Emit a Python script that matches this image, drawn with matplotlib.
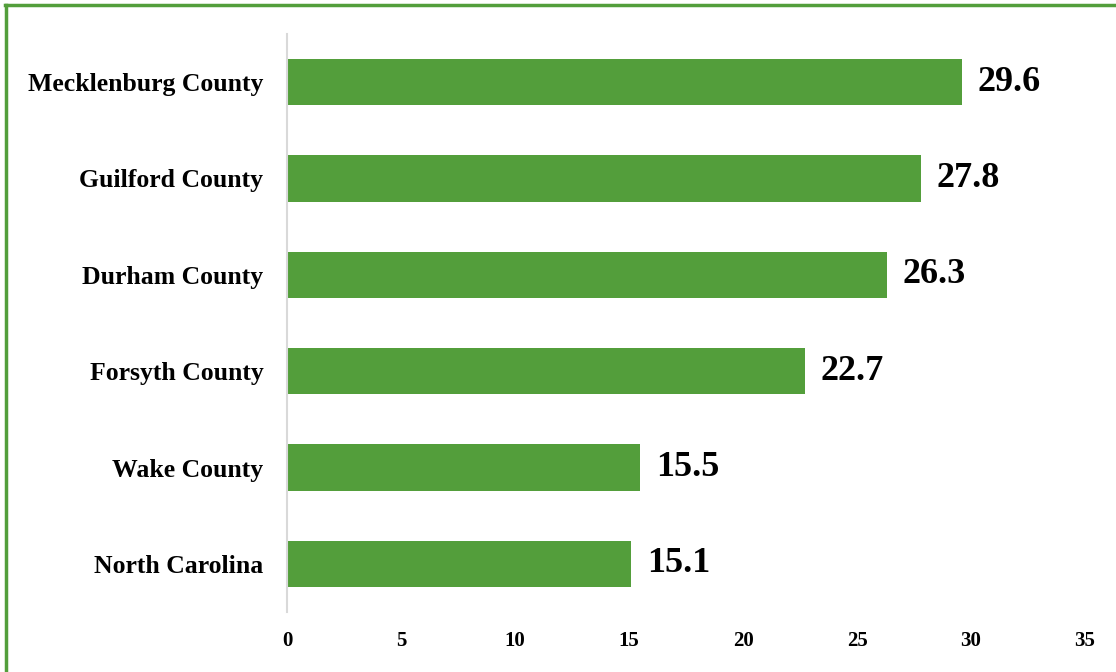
import matplotlib.pyplot as plt
from matplotlib.lines import Line2D

# categories top -> bottom, and rates
counties = ['Mecklenburg County', 'Guilford County', 'Durham County',
            'Forsyth County', 'Wake County', 'North Carolina']
rates = [29.6, 27.8, 26.3, 22.7, 15.5, 15.1]
xticks = [0, 5, 10, 15, 20, 25, 30, 35]

green = '#539E3B'
serif = ['Liberation Serif', 'DejaVu Serif']

fig = plt.figure(figsize=(11.16, 6.72), dpi=100)
ax = fig.add_axes([287/1116, 1 - 612/672, (1085-287)/1116, (612-34)/672])

ypos = list(range(len(counties)))[::-1]
ax.barh(ypos, rates, height=0.48, color=green)
for y, v in zip(ypos, rates):
    ax.text(v + 0.7, y, f'{v}', va='center', ha='left', fontsize=26,
            fontweight='bold', family=serif)

ax.set_xlim(0, 35)
ax.set_ylim(-0.5, len(counties) - 0.5)
ax.set_yticks(ypos)
ax.set_yticklabels(counties, fontsize=18.5, fontweight='bold', family=serif)
ax.set_xticks(xticks)
ax.set_xticklabels([str(t) for t in xticks], fontsize=15, fontweight='bold',
                   family=serif)
ax.tick_params(axis='both', length=0)
ax.tick_params(axis='x', pad=14)
ax.tick_params(axis='y', pad=17)
for s in ['top', 'right', 'bottom']:
    ax.spines[s].set_visible(False)
ax.spines['left'].set_color('#D9D9D9')
ax.spines['left'].set_linewidth(1.5)

# green frame: top and left edges
fig.add_artist(Line2D([5/1116, 1], [1 - 5/672, 1 - 5/672], color=green,
                      lw=2.5, transform=fig.transFigure))
fig.add_artist(Line2D([6/1116, 6/1116], [0, 1 - 5/672], color=green,
                      lw=2.5, transform=fig.transFigure))

fig.savefig('out.png', dpi=100)
